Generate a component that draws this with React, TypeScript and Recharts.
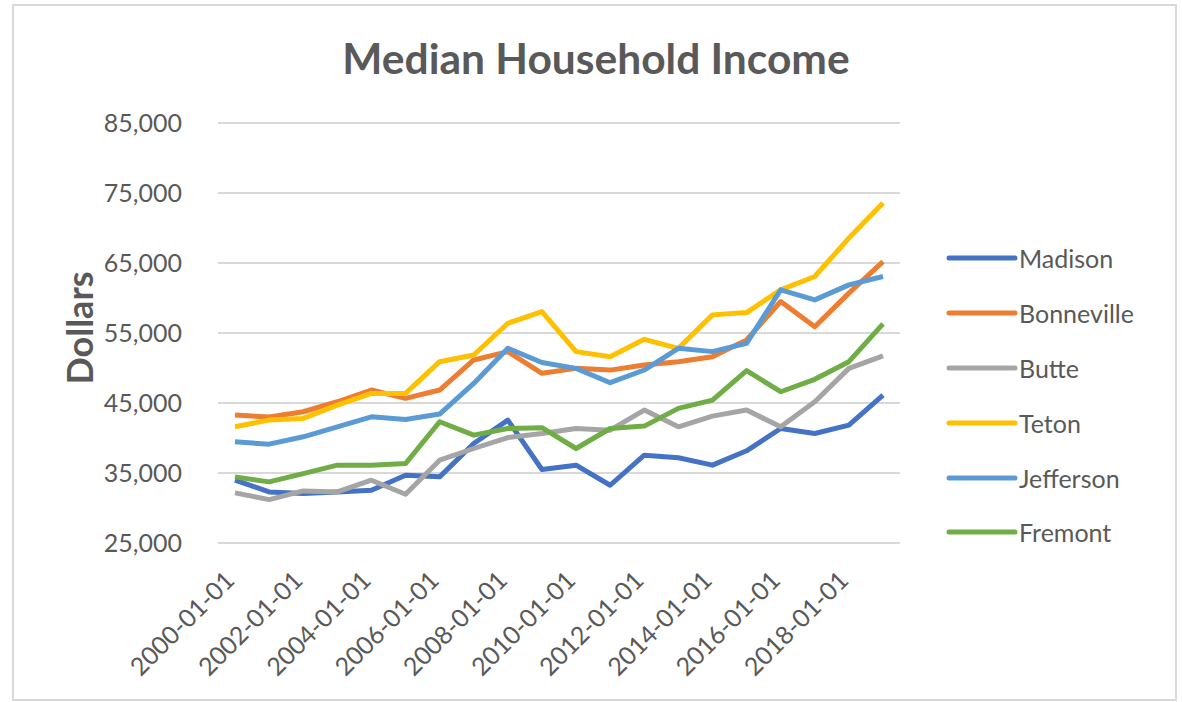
import { LineChart, Line, XAxis, YAxis, CartesianGrid, Legend } from "recharts";

const years = [
  "2000-01-01", "2001-01-01", "2002-01-01", "2003-01-01", "2004-01-01",
  "2005-01-01", "2006-01-01", "2007-01-01", "2008-01-01", "2009-01-01",
  "2010-01-01", "2011-01-01", "2012-01-01", "2013-01-01", "2014-01-01",
  "2015-01-01", "2016-01-01", "2017-01-01", "2018-01-01", "2019-01-01",
];

const madison = [33970, 32300, 32060, 32300, 32540, 34680, 34450, 39220, 42560, 35500, 36120, 33250, 37550, 37170, 36120, 38170, 41360, 40650, 41840, 46140];
const bonneville = [43270, 43000, 43750, 45180, 46850, 45660, 46850, 51150, 52340, 49240, 49950, 49700, 50430, 50900, 51620, 54000, 59500, 55900, 60700, 65200];
const butte = [32160, 31200, 32440, 32300, 33970, 31970, 36830, 38500, 40070, 40650, 41360, 41120, 43990, 41600, 43130, 43990, 41600, 45180, 49950, 51720];
const teton = [41600, 42560, 42800, 44700, 46370, 46370, 50900, 51860, 56390, 58060, 52340, 51620, 54100, 52800, 57590, 57920, 61160, 63070, 68560, 73570];
const jefferson = [39450, 39120, 40170, 41600, 43030, 42650, 43420, 47800, 52810, 50780, 49950, 47900, 49710, 52810, 52340, 53530, 61160, 59730, 61880, 63070];
const fremont = [34450, 33730, 34920, 36120, 36120, 36350, 42320, 40410, 41360, 41480, 38500, 41360, 41700, 44230, 45420, 49620, 46610, 48380, 50900, 56300];

const yTicks = [25000, 35000, 45000, 55000, 65000, 75000, 85000];

const series = [
  { key: "Madison", values: madison, color: "#4472C4" },
  { key: "Bonneville", values: bonneville, color: "#ED7D31" },
  { key: "Butte", values: butte, color: "#A5A5A5" },
  { key: "Teton", values: teton, color: "#FFC000" },
  { key: "Jefferson", values: jefferson, color: "#5B9BD5" },
  { key: "Fremont", values: fremont, color: "#70AD47" },
];

const data = years.map((date, i) => {
  const row: Record<string, string | number> = { date };
  series.forEach((s) => (row[s.key] = s.values[i]));
  return row;
});

const FONT = "Lato, 'Open Sans', sans-serif";
const TEXT = "#595959";

function XTick({ x, y, payload }: any) {
  return (
    <text
      x={x + 1}
      y={y + 31}
      transform={`rotate(-45 ${x + 1} ${y + 31})`}
      textAnchor="end"
      fontSize={25}
      fontFamily={FONT}
      fill={TEXT}
    >
      {payload.value}
    </text>
  );
}

function YTick({ x, y, payload }: any) {
  return (
    <text x={x - 28} y={y} dy="0.35em" textAnchor="end" fontSize={25} fontFamily={FONT} fill={TEXT}>
      {payload.value.toLocaleString("en-US")}
    </text>
  );
}

// keep the legend in series order (recharts sorts by name otherwise)
function LegendBox() {
  return (
    <div style={{ fontFamily: FONT }}>
      {series.map((s) => (
        <div key={s.key} style={{ height: 54.8, display: "flex", alignItems: "center" }}>
          <svg width={72} height={8}>
            <line x1={3} y1={4} x2={69} y2={4} stroke={s.color} strokeWidth={5} strokeLinecap="round" />
          </svg>
          <span style={{ fontSize: 25, color: TEXT, marginLeft: 1 }}>{s.key}</span>
        </div>
      ))}
    </div>
  );
}

export default function App() {
  return (
    <div style={{ position: "absolute", left: 0, top: 0, width: 1182, height: 702, background: "#fff" }}>
      <div
        style={{
          position: "absolute",
          left: 12,
          top: 4,
          width: 1165,
          height: 697,
          border: "2px solid #d9d9d9",
          boxSizing: "border-box",
        }}
      />
      <div
        style={{
          position: "absolute",
          left: 5,
          top: 32,
          width: 1182,
          textAlign: "center",
          fontFamily: FONT,
          fontWeight: 700,
          fontSize: 42.5,
          color: TEXT,
          lineHeight: "normal",
        }}
      >
        Median Household Income
      </div>
      <div
        style={{
          position: "absolute",
          left: 79,
          top: 328,
          transform: "translate(-50%, -50%) rotate(-90deg)",
          fontFamily: FONT,
          fontWeight: 700,
          fontSize: 36,
          color: TEXT,
          whiteSpace: "nowrap",
        }}
      >
        Dollars
      </div>
      <LineChart
        width={1182}
        height={702}
        data={data}
        margin={{ top: 123, right: 282, bottom: 9, left: 0 }}
        style={{ position: "absolute", left: 0, top: 0 }}
      >
        <CartesianGrid vertical={false} stroke="#d9d9d9" strokeWidth={2} />
        <XAxis
          dataKey="date"
          interval={1}
          height={150}
          padding={{ left: 17, right: 17 }}
          axisLine={false}
          tickLine={false}
          tick={<XTick />}
        />
        <YAxis
          width={218}
          domain={[25000, 85000]}
          ticks={yTicks}
          axisLine={false}
          tickLine={false}
          tick={<YTick />}
        />
        <Legend
          layout="horizontal"
          verticalAlign="middle"
          align="center"
          content={<LegendBox />}
          wrapperStyle={{ left: 946, top: 231, width: 230 }}
        />
        {series.map((s) => (
          <Line
            key={s.key}
            dataKey={s.key}
            name={s.key}
            stroke={s.color}
            strokeWidth={5}
            strokeLinejoin="round"
            dot={false}
            type="linear"
            isAnimationActive={false}
          />
        ))}
      </LineChart>
    </div>
  );
}
